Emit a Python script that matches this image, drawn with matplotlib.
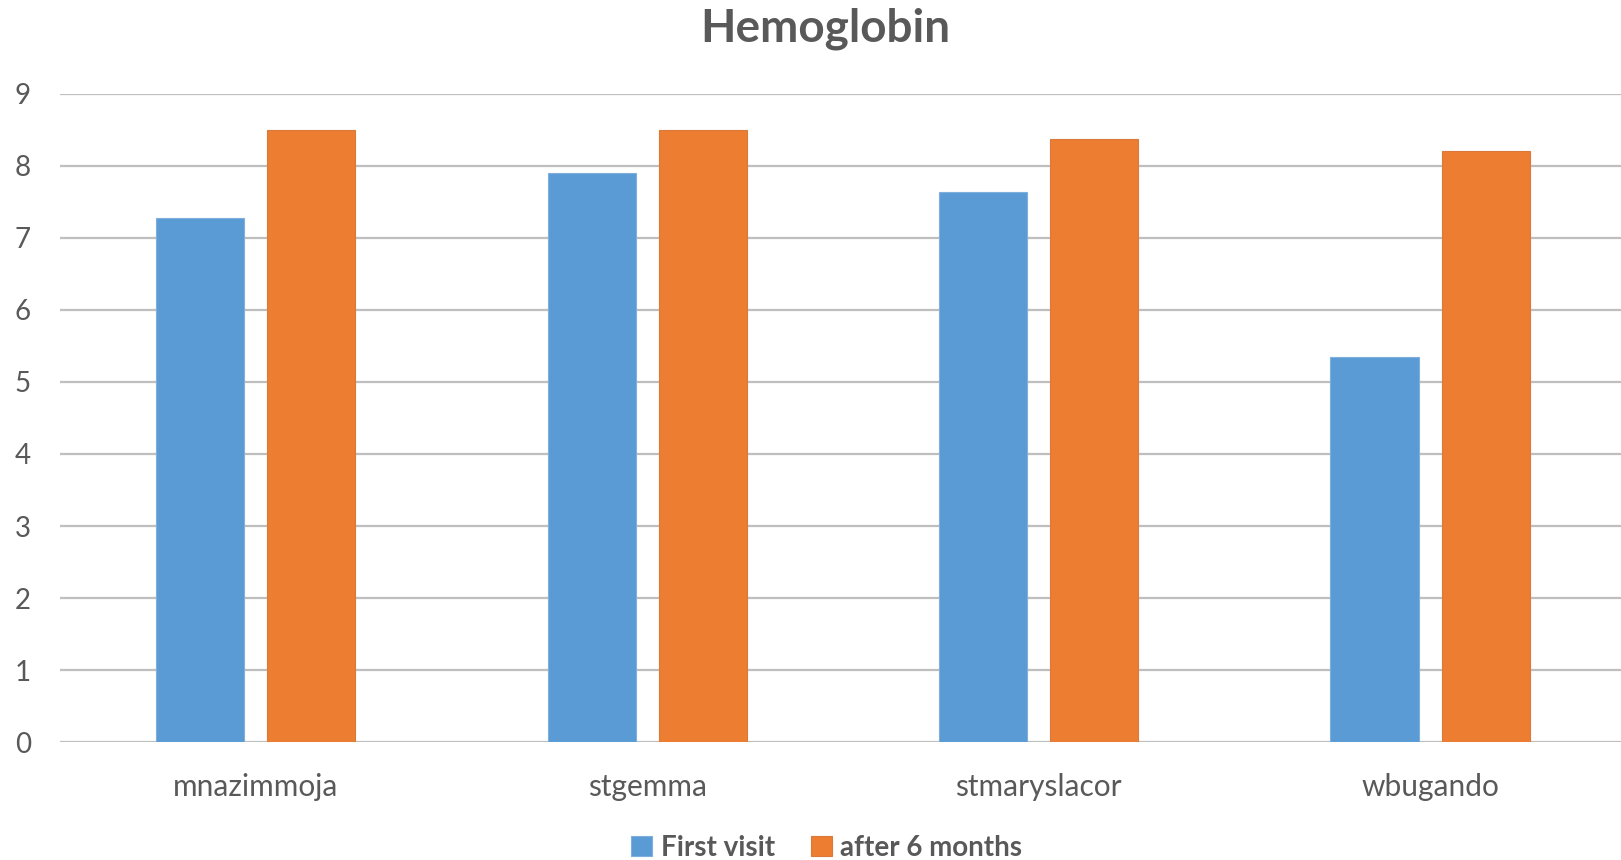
import numpy as np
import matplotlib
matplotlib.use("Agg")
import matplotlib.pyplot as plt

plt.rcParams['font.family'] = ['Lato', 'DejaVu Sans']

sites = ["mnazimmoja", "stgemma", "stmaryslacor", "wbugando"]
first_visit = [7.28, 7.90, 7.64, 5.35]
after_6_months = [8.49, 8.49, 8.37, 8.21]
yticks = list(range(0, 10))

blue = "#5B9BD5"
orange = "#ED7D31"
text_grey = "#595959"
grid_grey = "#BFBFBF"

fig = plt.figure(figsize=(16.21, 8.6), dpi=100)
ax = fig.add_axes([0.037, 0.137, 0.966, 0.754])

x = np.arange(len(sites))
w = 0.225
off = 0.142
ax.bar(x - off, first_visit, w, color=blue, edgecolor="#7FAFDD", linewidth=0.8,
       label="First visit", zorder=3)
ax.bar(x + off, after_6_months, w, color=orange, edgecolor="#D97A3A", linewidth=0.8,
       label="after 6 months", zorder=3)

ax.set_xlim(-0.5, len(sites) - 0.5)
ax.set_ylim(0, 9)
ax.set_yticks(yticks)
ax.set_xticks(x)
ax.set_xticklabels(sites)
ax.yaxis.grid(True, color=grid_grey, linewidth=1.6, zorder=0)
ax.set_axisbelow(True)
for s in ax.spines.values():
    s.set_visible(False)
ax.tick_params(axis="y", length=0, labelsize=20, labelcolor=text_grey, pad=21)
ax.tick_params(axis="x", length=0, labelsize=21.5, labelcolor=text_grey, pad=22)

fig.text(0.509, 0.967, "Hemoglobin", ha="center", va="center", fontsize=33,
         fontweight="bold", color=text_grey)

leg = fig.legend(loc="center", bbox_to_anchor=(0.51, 0.014), ncol=2, frameon=False,
                 prop={"size": 20, "weight": "bold"}, handlelength=0.75,
                 handleheight=0.75, handletextpad=0.3, columnspacing=1.3)
for t in leg.get_texts():
    t.set_color(text_grey)

fig.savefig("out.png", dpi=100)
